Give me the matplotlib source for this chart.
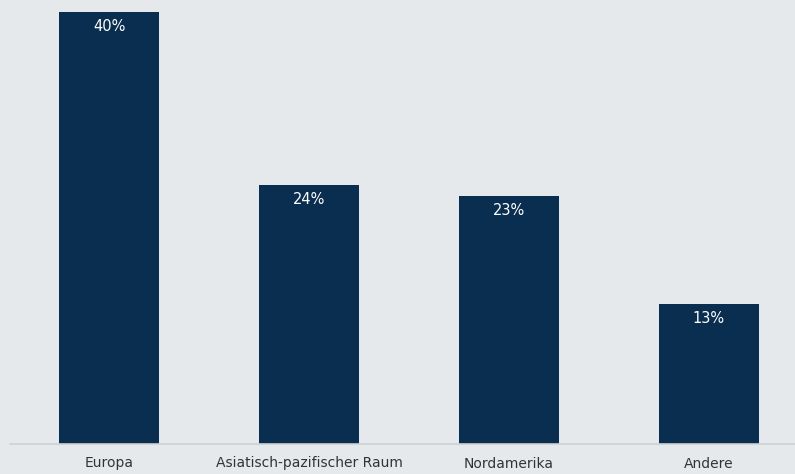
import numpy as np
import matplotlib.pyplot as plt

# Anteil nach Region (%)
regions = ['Europa', 'Asiatisch-pazifischer Raum', 'Nordamerika', 'Andere']
shares = [40, 24, 23, 13]

bg = '#e6e9ec'
bar_color = '#0a2e4f'

fig = plt.figure(figsize=(7.95, 4.74), dpi=100, facecolor=bg)
ax = fig.add_axes([10 / 795, 1 - 444 / 474, 785 / 795, 444 / 474])
ax.set_facecolor(bg)

x = np.arange(len(regions))
bars = ax.bar(x, shares, width=0.5, color=bar_color, zorder=2)

for xi, v in zip(x, shares):
    ax.annotate(f'{v}%', (xi, v), xytext=(0, -10.5), textcoords='offset points',
                ha='center', va='center', color='white', fontsize=10.5)

ax.set_xlim(-0.495, 3.43)
ax.set_ylim(0, 41.1)
ax.set_xticks(x)
ax.set_xticklabels(regions, fontsize=10, color='#333333')
ax.tick_params(axis='x', length=0, pad=9)
ax.set_yticks([])
for side in ['top', 'right', 'left']:
    ax.spines[side].set_visible(False)
ax.spines['bottom'].set_color('#cdd1d5')
ax.spines['bottom'].set_linewidth(1.2)

fig.savefig('out.png', dpi=100, facecolor=bg)
